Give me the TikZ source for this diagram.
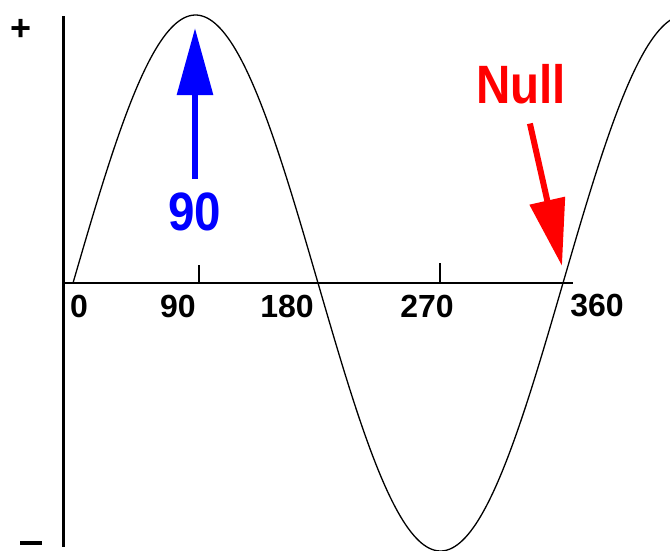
\documentclass[tikz,border=0pt]{standalone}
\usepackage{fontspec}
\setmainfont{Liberation Sans}
\newfontfamily\calloutfont[FakeStretch=0.88]{Liberation Sans}
\usetikzlibrary{arrows.meta}

\begin{document}
\begin{tikzpicture}[x=1pt, y=-1pt,
    axislabel/.style={font=\fontsize{32}{32}\selectfont\bfseries, inner sep=0pt},
    signlabel/.style={font=\fontsize{36}{36}\selectfont\bfseries, inner sep=0pt},
    callout/.style={font=\calloutfont\fontsize{54}{54}\selectfont\bfseries, inner sep=0pt},
    bigarrow/.style={line width=6pt, -{Triangle[length=67pt, width=35pt]}}]
    \useasboundingbox (0,0) rectangle (670,550);
    % the axes and their two ticks
    \draw[line width=3pt] (63,16) -- (63,547);
    \draw[line width=2.5pt] (63,283) -- (573,283);
    \draw[line width=2pt] (199,283) -- (199,265);
    \draw[line width=2pt] (440,283) -- (440,263);
    % the sine wave
    \draw[line width=1.3pt] plot[domain=73:690, samples=240, smooth]
        (\x, {283-268*sin((\x-73)/490*360)});
    % labels on the axes
        \node[signlabel] (plus) at (21,30) {+};
        \node[signlabel] (minus) at (31,543) {\rule{22pt}{3.5pt}};
        \node[axislabel] (deg0) at (79,306) {0};
        \node[axislabel] (deg90) at (178,306) {90};
        \node[axislabel] (deg180) at (287,306) {180};
        \node[axislabel] (deg270) at (427,306) {270};
        \node[axislabel] (deg360) at (597,306) {360};
    % the two pointers
        \node[callout, text=blue] (ninety) at (195,212) {90};
        \coordinate (peaktip) at (195,28);
        \draw[bigarrow, blue, shorten <=14pt] (ninety) -- (peaktip);
        \node[callout, text=red] (null) at (521,84) {Null};
        \coordinate (nulltip) at (562,266);
        \draw[bigarrow, red, shorten <=20pt] (null) -- (nulltip);
\end{tikzpicture}
\end{document}
